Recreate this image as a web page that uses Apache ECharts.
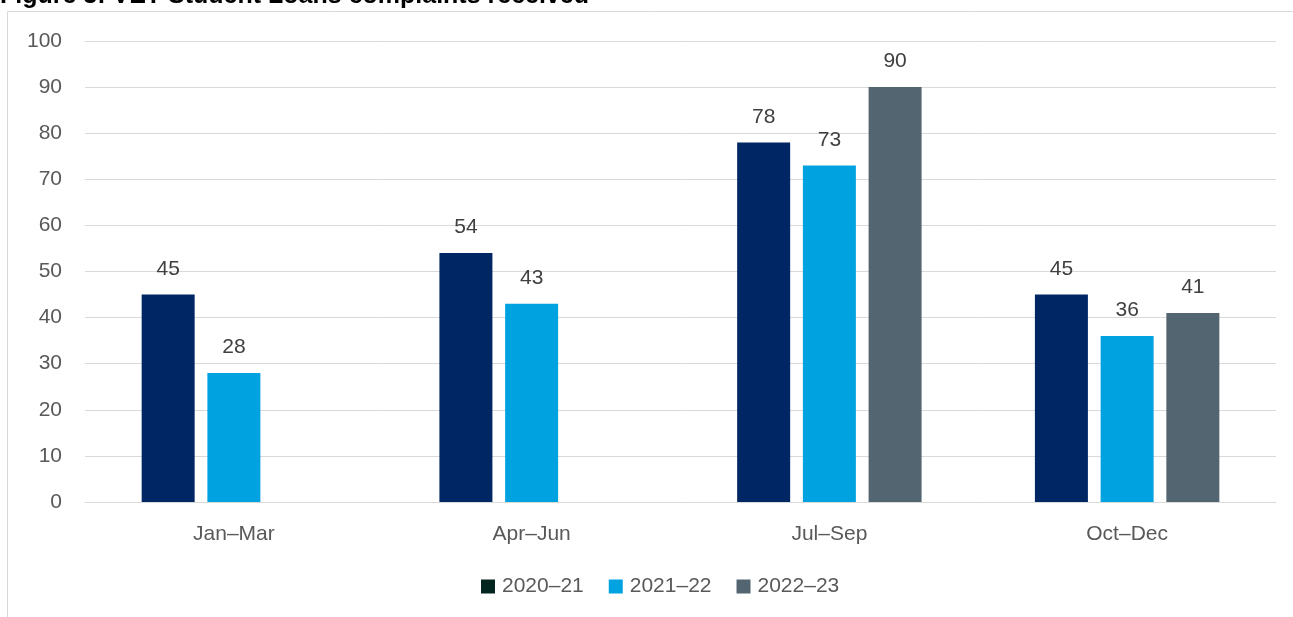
<!DOCTYPE html>
<html>
<head>
<meta charset="utf-8">
<style>
  html, body { margin: 0; padding: 0; background: #ffffff; }
  #chart { width: 1293px; height: 617px; }
</style>
<script src="https://cdn.jsdelivr.net/npm/echarts@6/dist/echarts.min.js"></script>
</head>
<body>
<div id="chart"></div>
<script>
// Quarters along the x axis
const quarters = ['Jan–Mar', 'Apr–Jun', 'Jul–Sep', 'Oct–Dec'];
// Complaints received per quarter, by financial year (null = no data yet)
const fy2020_21 = [45, 54, 78, 45];
const fy2021_22 = [28, 43, 73, 36];
const fy2022_23 = [null, null, 90, 41];
const seriesNames = ['2020–21', '2021–22', '2022–23'];
const yTicks = { min: 0, max: 100, interval: 10 };

const FONT = '"Liberation Sans", Arial, sans-serif';
const barColors = ['#002664', '#00a3e0', '#536570'];
const legendColors = ['#02261f', '#00a3e0', '#536570'];

const chart = echarts.init(document.getElementById('chart'), null, { renderer: 'canvas' });

function barSeries(name, data, color) {
  return {
    name: name,
    type: 'bar',
    data: data,
    barWidth: 53,
    barGap: '24%',
    itemStyle: { color: color },
    label: {
      show: true,
      position: 'top',
      distance: 15,
      color: '#404040',
      fontFamily: FONT,
      fontSize: 21
    }
  };
}

chart.setOption({
  animation: false,
  backgroundColor: '#ffffff',
  graphic: [
    {
      type: 'text',
      left: 0,
      top: -16,
      style: {
        text: 'Figure 3: VET Student Loans complaints received',
        font: 'bold 25px ' + FONT,
        fill: '#000000'
      }
    },
    {
      type: 'rect',
      shape: { x: 7.5, y: 11.5, width: 1300, height: 700 },
      style: { fill: 'none', stroke: '#d9d9d9', lineWidth: 1 }
    }
  ],
  grid: { left: 85, right: 17, top: 41, bottom: 115, containLabel: false },
  legend: {
    bottom: 20,
    left: 481,
    padding: 0,
    itemWidth: 14,
    itemHeight: 14,
    itemGap: 25,
    icon: 'rect',
    textStyle: { color: '#595959', fontFamily: FONT, fontSize: 21, padding: [0, 0, 0, 2] },
    data: seriesNames.map((n, i) => ({ name: n, itemStyle: { color: legendColors[i] } }))
  },
  xAxis: {
    type: 'category',
    data: quarters,
    axisLine: { show: true, lineStyle: { color: '#d9d9d9', width: 1 } },
    axisTick: { show: false },
    axisLabel: { color: '#595959', fontFamily: FONT, fontSize: 21, margin: 22 }
  },
  yAxis: {
    type: 'value',
    min: yTicks.min,
    max: yTicks.max,
    interval: yTicks.interval,
    axisLine: { show: false },
    axisTick: { show: false },
    axisLabel: { color: '#595959', fontFamily: FONT, fontSize: 21, margin: 23 },
    splitLine: { lineStyle: { color: '#d9d9d9', width: 1 } }
  },
  series: [
    barSeries(seriesNames[0], fy2020_21, barColors[0]),
    barSeries(seriesNames[1], fy2021_22, barColors[1]),
    barSeries(seriesNames[2], fy2022_23, barColors[2])
  ]
});
</script>
</body>
</html>
